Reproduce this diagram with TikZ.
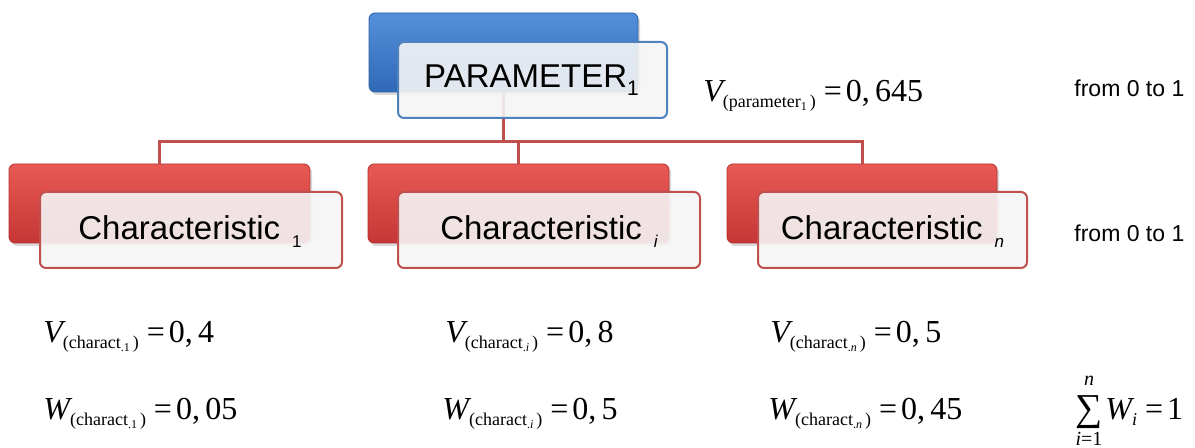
\documentclass[tikz,border=0pt]{standalone}
\usepackage{fontspec}
\setmainfont{Liberation Sans}
\newfontfamily\tms{Liberation Serif}
\usetikzlibrary{shadows}
\definecolor{bluetop}{RGB}{84,144,218}
\definecolor{bluebot}{RGB}{48,104,182}
\definecolor{blueline}{RGB}{79,129,189}
\definecolor{redtop}{RGB}{232,90,86}
\definecolor{redbot}{RGB}{198,54,52}
\definecolor{redline}{RGB}{192,80,77}
\definecolor{frontfill}{RGB}{245,245,245}
\newcommand{\csub}[2]{\raisebox{-3pt}{\tms\fontsize{9}{10}\selectfont(#1\raisebox{-1.5pt}{\fontsize{6}{7}\selectfont #2}\,)}}
\newcommand{\frm}[4]{{\tms\fontsize{16}{18}\selectfont\itshape #1}\csub{#2}{#3}\hspace{4pt}{\tms\fontsize{16}{18}\selectfont =\hspace{2pt}#4}}
\tikzset{
  backbox/.style={rounded corners=3pt, inner sep=0pt, minimum height=39.5pt,
    drop shadow={shadow xshift=1pt, shadow yshift=-1.5pt, opacity=0.3}},
  backblue/.style={backbox, top color=bluetop, bottom color=bluebot, draw=bluebot!90!black, line width=0.4pt},
  backred/.style={backbox, top color=redtop, bottom color=redbot, draw=redbot!90!black, line width=0.4pt},
  frontbox/.style={rounded corners=3pt, inner sep=0pt, minimum height=38pt, fill=frontfill, fill opacity=0.9, line width=1pt},
  frontblue/.style={frontbox, draw=blueline},
  frontred/.style={frontbox, draw=redline},
  conn/.style={draw=redline, line width=1.5pt},
  boxtext/.style={anchor=base, inner sep=0pt, font=\fontsize{16.5}{19}\selectfont},
  rangetext/.style={anchor=base west, inner sep=0pt, font=\fontsize{11.5}{13}\selectfont},
  formula/.style={anchor=base west, inner sep=0pt}
}
\begin{document}
\begin{tikzpicture}[x=0.5pt, y=-0.5pt]
\useasboundingbox (0,0) rectangle (1195,448);
\coordinate (bus) at (0,142);
% back boxes
\node[backblue, minimum width=134.5pt] (bb) at (503.5,52.5) {};
\node[backred, minimum width=150.5pt] (rb1) at (159.5,203.5) {};
\node[backred, minimum width=150.5pt] (rb2) at (518.5,203.5) {};
\node[backred, minimum width=135pt] (rb3) at (862,203.5) {};
% connectors
\draw[conn] (bb.south) -- (bb.south |- bus) -| (rb1.north);
\draw[conn] (bb.south |- bus) -| (rb2.north);
\draw[conn] (bb.south |- bus) -| (rb3.north);
% front boxes
\node[frontblue, minimum width=134.5pt] (fb) at (532.5,80) {};
\node[frontred, minimum width=151pt] (fr1) at (191,230) {};
\node[frontred, minimum width=151pt] (fr2) at (549,230) {};
\node[frontred, minimum width=134.5pt] (fr3) at (892.5,230) {};
% box texts
\node[boxtext] (t0) at (531.5,88) {PARAMETER\raisebox{-4pt}{\fontsize{10.5}{12}\selectfont 1}};
\node[boxtext] (t1) at (190,240) {Characteristic\hspace{6pt}\raisebox{-4pt}{\fontsize{8.5}{10}\selectfont 1}};
\node[boxtext] (t2) at (549,240) {Characteristic\hspace{6pt}\raisebox{-4pt}{\fontsize{8.5}{10}\selectfont\itshape i}};
\node[boxtext] (t3) at (892.5,240) {Characteristic\hspace{6pt}\raisebox{-4pt}{\fontsize{8.5}{10}\selectfont\itshape n}};
% ranges
\node[rangetext] (r1) at (1074,97) {from 0 to 1};
\node[rangetext] (r2) at (1074,242) {from 0 to 1};
% formulas
\node[formula] (vp) at (703,102) {\frm{V}{parameter}{1}{0,\,645}};
\node[formula] (v1) at (43,343) {\frm{V}{charact}{.1}{0,\,4}};
\node[formula] (v2) at (445,343) {\frm{V}{charact}{.\textit{i}}{0,\,8}};
\node[formula] (v3) at (770,343) {\frm{V}{charact}{.\textit{n}}{0,\,5}};
\node[formula] (w1) at (43,420) {\frm{W}{charact}{.1}{0,\,05}};
\node[formula] (w2) at (442,420) {\frm{W}{charact}{.\textit{i}}{0,\,5}};
\node[formula] (w3) at (768,420) {\frm{W}{charact}{.\textit{n}}{0,\,45}};
% sum
\node[formula] (sg) at (1075,421) {\tms\fontsize{19}{21}\selectfont ∑};
\node[anchor=base, inner sep=0pt] (sn) at (1089,386) {\tms\fontsize{10}{12}\selectfont\itshape n};
\node[anchor=base, inner sep=0pt] (si) at (1089,446) {\tms\fontsize{10}{12}\selectfont\textit{i}=1};
\node[formula] (sw) at (1105,420) {{\tms\fontsize{16}{18}\selectfont\itshape W}\raisebox{-3pt}{\tms\fontsize{9}{10}\selectfont\itshape i}\hspace{4pt}{\tms\fontsize{16}{18}\selectfont =\hspace{2pt}1}};
\end{tikzpicture}
\end{document}
